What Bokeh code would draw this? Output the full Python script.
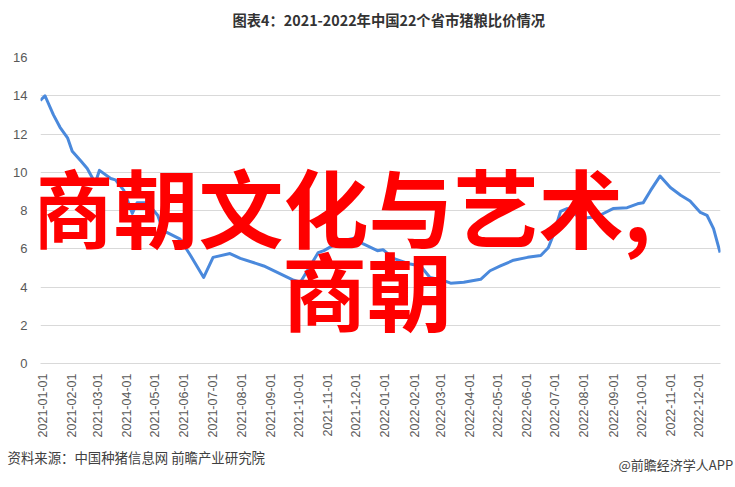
import math
from datetime import datetime
import pandas as pd
from bokeh.plotting import figure
from bokeh.models import Range1d, FixedTicker, DatetimeTickFormatter, Label, Title
from bokeh.embed import file_html
from bokeh.resources import INLINE

# ---- data ----
dates = [
    "2020-12-30", "2021-01-04", "2021-01-13", "2021-01-20", "2021-01-28", "2021-02-02",
    "2021-02-11", "2021-02-18", "2021-02-25", "2021-02-27", "2021-03-03", "2021-03-15",
    "2021-03-20", "2021-03-29", "2021-04-07", "2021-04-12", "2021-04-23", "2021-05-04",
    "2021-05-10", "2021-05-28", "2021-06-08", "2021-06-22", "2021-07-02", "2021-07-20",
    "2021-07-31", "2021-08-25", "2021-09-26", "2021-10-03", "2021-10-22", "2021-10-28",
    "2021-11-15", "2021-11-29", "2021-12-09", "2021-12-24", "2021-12-30", "2022-01-10",
    "2022-01-28", "2022-02-08", "2022-02-18", "2022-03-04", "2022-03-12", "2022-03-26",
    "2022-04-13", "2022-04-23", "2022-05-04", "2022-05-18", "2022-06-02", "2022-06-16",
    "2022-06-24", "2022-06-30", "2022-07-07", "2022-07-14", "2022-07-28", "2022-08-11",
    "2022-08-18", "2022-09-01", "2022-09-16", "2022-09-27", "2022-10-03", "2022-10-11",
    "2022-10-21", "2022-11-01", "2022-11-12", "2022-11-22", "2022-12-03", "2022-12-10",
    "2022-12-17", "2022-12-24",
]
ratios = [
    13.75, 14.0, 13.0, 12.35, 11.8, 11.1,
    10.6, 10.2, 9.57, 9.5, 10.1, 9.67,
    9.6, 9.05, 7.85, 8.4, 8.4, 7.75,
    6.95, 6.5, 5.65, 4.5, 5.55, 5.75,
    5.5, 5.1, 4.35, 4.25, 5.8, 5.9,
    6.4, 6.55, 6.25, 5.9, 5.95, 5.5,
    5.2, 5.1, 4.5, 4.35, 4.2, 4.25,
    4.4, 4.85, 5.1, 5.4, 5.55, 5.65,
    6.05, 6.8, 7.95, 8.1, 7.6, 7.65,
    7.75, 8.1, 8.15, 8.35, 8.4, 9.05,
    9.8, 9.2, 8.8, 8.5, 7.9, 7.75,
    7.05, 5.8,
]
tick_labels = [
    "2021-01-01", "2021-02-01", "2021-03-01", "2021-04-01", "2021-05-01", "2021-06-01",
    "2021-07-01", "2021-08-01", "2021-09-01", "2021-10-01", "2021-11-01", "2021-12-01",
    "2022-01-01", "2022-02-01", "2022-03-01", "2022-04-01", "2022-05-01", "2022-06-01",
    "2022-07-01", "2022-08-01", "2022-09-01", "2022-10-01", "2022-11-01", "2022-12-01",
]
y_ticks = [0, 2, 4, 6, 8, 10, 12, 14, 16]
title_text = "图表4：2021-2022年中国22个省市猪粮比价情况"
overlay_line1 = "商朝文化与艺术,"
overlay_line2 = "商朝"
source_text = "资料来源：中国种猪信息网 前瞻产业研究院"
brand_text = "@前瞻经济学人APP"

x = pd.to_datetime(dates)
tick_ms = [pd.Timestamp(d).timestamp() * 1000 for d in tick_labels]

p = figure(
    width=735, height=487, x_axis_type="datetime",
    output_backend="svg", toolbar_location=None,
    x_range=Range1d(datetime(2020, 12, 30, 5), datetime(2022, 12, 24, 10)),
    y_range=Range1d(0, 16),
    min_border_left=40, min_border_right=15, min_border_top=57, min_border_bottom=124,
)
p.outline_line_color = None
p.background_fill_color = "white"
p.border_fill_color = "white"

p.line(x, ratios, line_color="#4a89dc", line_width=3, line_join="round")

fmt = "%Y-%m-%d"
p.xaxis.ticker = FixedTicker(ticks=tick_ms)
p.xaxis.formatter = DatetimeTickFormatter(
    milliseconds=fmt, seconds=fmt, minsec=fmt, minutes=fmt, hourmin=fmt,
    hours=fmt, days=fmt, months=fmt, years=fmt,
)
p.xaxis.major_label_orientation = math.pi / 2
p.xaxis.major_label_standoff = 10
p.xaxis.major_tick_out = 0
p.xaxis.major_tick_in = 0
p.xaxis.axis_line_color = "#d9d9d9"
p.xaxis.major_tick_line_color = None
p.xaxis.minor_tick_line_color = None
p.xaxis.major_label_text_color = "#595959"
p.xaxis.major_label_text_font = "Liberation Sans"
p.xaxis.major_label_text_font_size = "12.5px"

p.yaxis.ticker = FixedTicker(ticks=y_ticks)
p.yaxis.axis_line_color = None
p.yaxis.major_tick_line_color = None
p.yaxis.minor_tick_line_color = None
p.yaxis.major_tick_out = 0
p.yaxis.major_tick_in = 0
p.yaxis.major_label_standoff = 13
p.yaxis.major_label_text_color = "#595959"
p.yaxis.major_label_text_font = "Liberation Sans"
p.yaxis.major_label_text_font_size = "13px"

p.xgrid.grid_line_color = None
p.ygrid.ticker = FixedTicker(ticks=y_ticks)
p.ygrid.grid_line_color = "#d9d9d9"

# spacer panel next to the frame, then the chart title above it
p.add_layout(Title(text=" ", text_font_size="1px", standoff=25), "above")
p.add_layout(Title(text=title_text, align="left", offset=192, standoff=0,
                   text_font="Noto Sans CJK SC", text_font_style="bold",
                   text_font_size="14.3px", text_color="#333333"), "above")

# source and brand lines (below the axis)
p.add_layout(Title(text=source_text, align="left", offset=-33, standoff=8,
                   text_font="Noto Sans CJK SC", text_font_style="normal",
                   text_font_size="13.4px", text_color="#404040"), "below")
p.add_layout(Title(text=brand_text, align="left", offset=578, standoff=-32,
                   vertical_align="top",
                   text_font="Noto Sans CJK SC", text_font_style="normal",
                   text_font_size="13px", text_color="#404040"), "below")

# frame: page x 40..720, page y 57..363 -> screen units relative to frame
def sx(page_x):
    return page_x - 40

def sy(page_y):
    return 363 - page_y

p.add_layout(Label(x=sx(28), y=sy(204), x_units="screen", y_units="screen",
                   text=overlay_line1, text_font="Noto Sans CJK SC", text_font_style="bold",
                   text_font_size="85px", text_color="#ff0000",
                   text_align="left", text_baseline="middle"))
p.add_layout(Label(x=sx(366.5), y=sy(287), x_units="screen", y_units="screen",
                   text=overlay_line2, text_font="Noto Sans CJK SC", text_font_style="bold",
                   text_font_size="85px", text_color="#ff0000",
                   text_align="center", text_baseline="middle"))

open("out.html", "w").write(file_html(p, INLINE))
